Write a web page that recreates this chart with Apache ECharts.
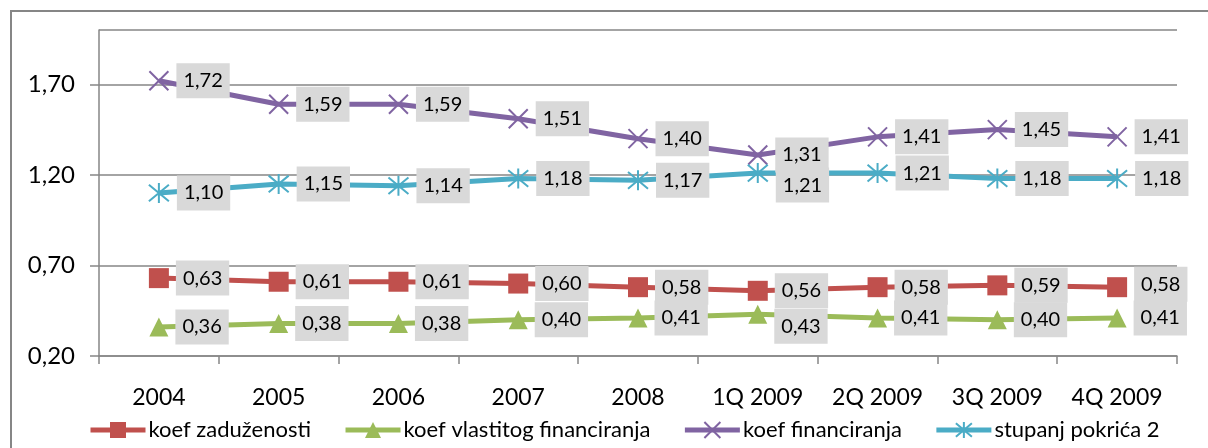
<!DOCTYPE html>
<html>
<head>
<meta charset="utf-8">
<script src="https://cdn.jsdelivr.net/npm/echarts@6/dist/echarts.min.js"></script>
<style>
  html, body { margin: 0; padding: 0; background: #fff; }
  #chart { width: 1208px; height: 448px; }
</style>
</head>
<body>
<div id="chart"></div>
<script>
// Period labels on the category axis
const categories = ['2004', '2005', '2006', '2007', '2008', '1Q 2009', '2Q 2009', '3Q 2009', '4Q 2009'];

// Ratio series
const koefZaduzenosti = [0.63, 0.61, 0.61, 0.60, 0.58, 0.56, 0.58, 0.59, 0.58];
const koefVlastitogFinanciranja = [0.36, 0.38, 0.38, 0.40, 0.41, 0.43, 0.41, 0.40, 0.41];
const koefFinanciranja = [1.72, 1.59, 1.59, 1.51, 1.40, 1.31, 1.41, 1.45, 1.41];
const stupanjPokrica2 = [1.10, 1.15, 1.14, 1.18, 1.17, 1.21, 1.21, 1.18, 1.18];

// Value axis range
const yMin = 0.2, yMax = 2.0, yStep = 0.5;

const FONT = 'Lato, "Open Sans", sans-serif';
const AXIS_GRAY = '#868686';

const fmt = v => v.toFixed(2).replace('.', ',');

// Per-point label nudges where neighbouring labels would collide
const labelNudge = {
  'stupanj pokrića 2': { 5: [0, 12] },
  'koef vlastitog financiranja': { 5: [0, 12] },
  'koef zaduženosti': { 8: [0, -3] }
};

function makeSeries(name, values, color, symbol, symbolSize, strokeSymbol) {
  const nudges = labelNudge[name] || {};
  return {
    name: name,
    type: 'line',
    data: values.map((v, i) => nudges[i] ? { value: v, label: { offset: nudges[i] } } : v),
    symbol: symbol,
    symbolSize: symbolSize,
    showAllSymbol: true,
    lineStyle: { color: color, width: 5 },
    itemStyle: strokeSymbol
      ? { color: color, borderColor: color, borderWidth: 2 }
      : { color: color, borderWidth: 0 },
    label: {
      show: true,
      position: 'right',
      distance: 7,
      formatter: p => fmt(typeof p.value === 'number' ? p.value : p.data.value),
      backgroundColor: '#d9d9d9',
      padding: [6, 7],
      color: '#000',
      fontFamily: FONT,
      fontSize: 20,
      lineHeight: 23
    },
    emphasis: { disabled: true },
    animation: false
  };
}

const chart = echarts.init(document.getElementById('chart'), null, { renderer: 'canvas' });

chart.setOption({
  backgroundColor: '#fff',
  animation: false,
  graphic: [{
    type: 'rect',
    shape: { x: 11, y: 11, width: 1400, height: 600 },
    style: { fill: 'none', stroke: AXIS_GRAY, lineWidth: 2 },
    silent: true,
    z: -1
  }],
  grid: { left: 99, right: 31, top: 30, bottom: 92 },
  xAxis: {
    type: 'category',
    data: categories,
    boundaryGap: true,
    axisLine: { lineStyle: { color: AXIS_GRAY, width: 1.5 } },
    axisTick: { show: true, length: 8, lineStyle: { color: AXIS_GRAY, width: 1.5 } },
    axisLabel: { color: '#000', fontFamily: FONT, fontSize: 23, margin: 30 },
    splitLine: { show: false }
  },
  yAxis: {
    type: 'value',
    min: yMin,
    max: yMax,
    interval: yStep,
    axisLine: { show: true, lineStyle: { color: AXIS_GRAY, width: 1.5 } },
    axisTick: { show: true, length: 9, lineStyle: { color: AXIS_GRAY, width: 1.5 } },
    axisLabel: { color: '#000', fontFamily: FONT, fontSize: 24, margin: 24, formatter: v => fmt(v), showMaxLabel: false },
    splitLine: { show: true, lineStyle: { color: AXIS_GRAY, width: 1.5 } }
  },
  legend: {
    left: 88,
    top: 419,
    padding: 0,
    itemWidth: 55,
    itemHeight: 20,
    itemGap: 32,
    lineStyle: { width: 5 },
    textStyle: { color: '#000', fontFamily: FONT, fontSize: 22, padding: [0, 0, 0, -2] },
    data: ['koef zaduženosti', 'koef vlastitog financiranja', 'koef financiranja', 'stupanj pokrića 2']
  },
  series: [
    makeSeries('koef zaduženosti', koefZaduzenosti, '#c0504d', 'rect', 20, false),
    makeSeries('koef vlastitog financiranja', koefVlastitogFinanciranja, '#9bbb59', 'triangle', 19, false),
    makeSeries('koef financiranja', koefFinanciranja, '#8064a2', 'path://M0,0L10,10M10,0L0,10', 19, true),
    makeSeries('stupanj pokrića 2', stupanjPokrica2, '#4bacc6', 'path://M0,0L10,10M10,0L0,10M5,-1L5,11', 20, true)
  ]
});
</script>
</body>
</html>
